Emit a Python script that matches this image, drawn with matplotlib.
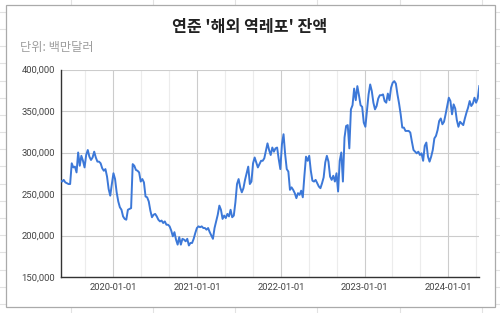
import numpy as np
import pandas as pd
import matplotlib
matplotlib.use("Agg")
import matplotlib.pyplot as plt
import matplotlib.dates as mdates
from matplotlib.lines import Line2D
from matplotlib.patches import Rectangle
from matplotlib.ticker import FuncFormatter, MultipleLocator


# ---------------------------------------------------------
#  Data : weekly balance, in thousands of 백만달러
# ---------------------------------------------------------
start_date = "2019-05-15"
balance_k = [
    266, 265, 267, 264, 263, 262, 262, 287, 282, 283,
    276, 300, 284, 296, 290, 282, 297, 303, 295, 291,
    294, 301, 294, 289, 289, 287, 281, 278, 280, 271,
    256, 248, 262, 275, 268, 252, 241, 234, 231, 223,
    220, 219, 231, 232, 233, 286, 284, 279, 278, 276,
    265, 268, 264, 247, 246, 241, 230, 222, 225, 226,
    223, 219, 217, 218, 215, 217, 213, 213, 211, 206,
    199, 204, 195, 189, 198, 189, 196, 195, 193, 196,
    188, 191, 191, 196, 203, 209, 211, 210, 211, 209,
    209, 207, 209, 204, 200, 196, 209, 217, 225, 236,
    231, 220, 224, 221, 226, 223, 231, 222, 224, 240,
    262, 268, 258, 252, 257, 267, 275, 283, 262, 265,
    287, 294, 288, 282, 286, 290, 290, 293, 302, 311,
    303, 297, 306, 301, 305, 306, 292, 280, 310, 322,
    298, 280, 277, 255, 258, 255, 251, 245, 251, 249,
    254, 246, 272, 295, 290, 296, 278, 266, 265, 267,
    263, 259, 257, 263, 270, 288, 296, 289, 271, 267,
    272, 265, 275, 253, 290, 300, 265, 318, 332, 333,
    305, 352, 357, 377, 363, 380, 369, 357, 355, 336,
    331, 350, 370, 382, 374, 360, 352, 356, 365, 369,
    369, 370, 362, 360, 371, 363, 378, 384, 386, 383,
    370, 359, 346, 330, 330, 326, 326, 326, 324, 313,
    303, 301, 299, 301, 297, 299, 290, 308, 312, 295,
    289, 295, 303, 317, 320, 327, 338, 341, 334, 337,
    346, 356, 366, 362, 346, 358, 353, 339, 331, 337,
    335, 333, 341, 348, 354, 362, 356, 359, 366, 360,
    365, 380,
]

title = "연준 '해외 역레포' 잔액"
unit_label = "단위: 백만달러"

dates = pd.date_range(start_date, periods=len(balance_k), freq="7D")
balance = np.array(balance_k) * 1000

W, H = 500, 313
fig = plt.figure(figsize=(W / 100, H / 100), dpi=100)

# spreadsheet grid behind the chart
for x in np.arange(70.7, W, 82.2):
    fig.add_artist(Line2D([x / W, x / W], [0, 1], color="#e2e2e2", lw=0.8, zorder=-3))
for y in np.arange(11.7, H, 17.2):
    fig.add_artist(Line2D([0, 1], [1 - y / H, 1 - y / H], color="#e2e2e2", lw=0.8, zorder=-3))

# chart card
fig.add_artist(Rectangle((6 / W, 1 - 306.5 / H), 489 / W, 301.5 / H,
                         facecolor="white", edgecolor="#aaaaaa", lw=0.9, zorder=-2))

ax = fig.add_axes([60.5 / W, 1 - 277 / H, (479.3 - 60.5) / W, (277 - 69.5) / H])
ax.patch.set_alpha(0)

ax.plot(dates, balance, color="#3c78d8", lw=1.4, zorder=3)

ax.set_ylim(150000, 400000)
ax.set_xlim(dates[0], dates[-1])
ax.yaxis.set_major_locator(MultipleLocator(50000))
ax.yaxis.set_major_formatter(FuncFormatter(lambda v, p: f"{int(v):,}"))

ax.xaxis.set_major_locator(mdates.YearLocator())
ax.xaxis.set_minor_locator(mdates.MonthLocator(bymonth=[5, 9]))
ax.xaxis.set_major_formatter(mdates.DateFormatter("%Y-%m-%d"))

ax.grid(True, which="major", color="#cccccc", lw=0.8)
ax.grid(True, which="minor", axis="x", color="#ececec", lw=0.8)
ax.set_axisbelow(True)

for s in ["top", "right"]:
    ax.spines[s].set_visible(False)
ax.spines["left"].set_color("#333333")
ax.spines["bottom"].set_color("#333333")
ax.spines["left"].set_linewidth(1.0)
ax.spines["bottom"].set_linewidth(1.0)

ax.tick_params(which="both", length=0)
ax.tick_params(axis="y", pad=4, labelsize=6.8, labelcolor="#444444")
ax.tick_params(axis="x", pad=4.5, labelsize=6.8, labelcolor="#444444")
for lab in ax.get_xticklabels() + ax.get_yticklabels():
    lab.set_family("Roboto")

fig.text(0.5, 1 - 26.7 / H, title, ha="center", va="center", fontsize=11.6,
         fontweight="bold", color="#222222", family=["Noto Sans CJK KR", "DejaVu Sans"])
fig.text(20.5 / W, 1 - 48 / H, unit_label, ha="left", va="center", fontsize=8.8,
         color="#9e9e9e", family=["Noto Sans CJK KR", "DejaVu Sans"])

fig.savefig("out.png", dpi=100)
